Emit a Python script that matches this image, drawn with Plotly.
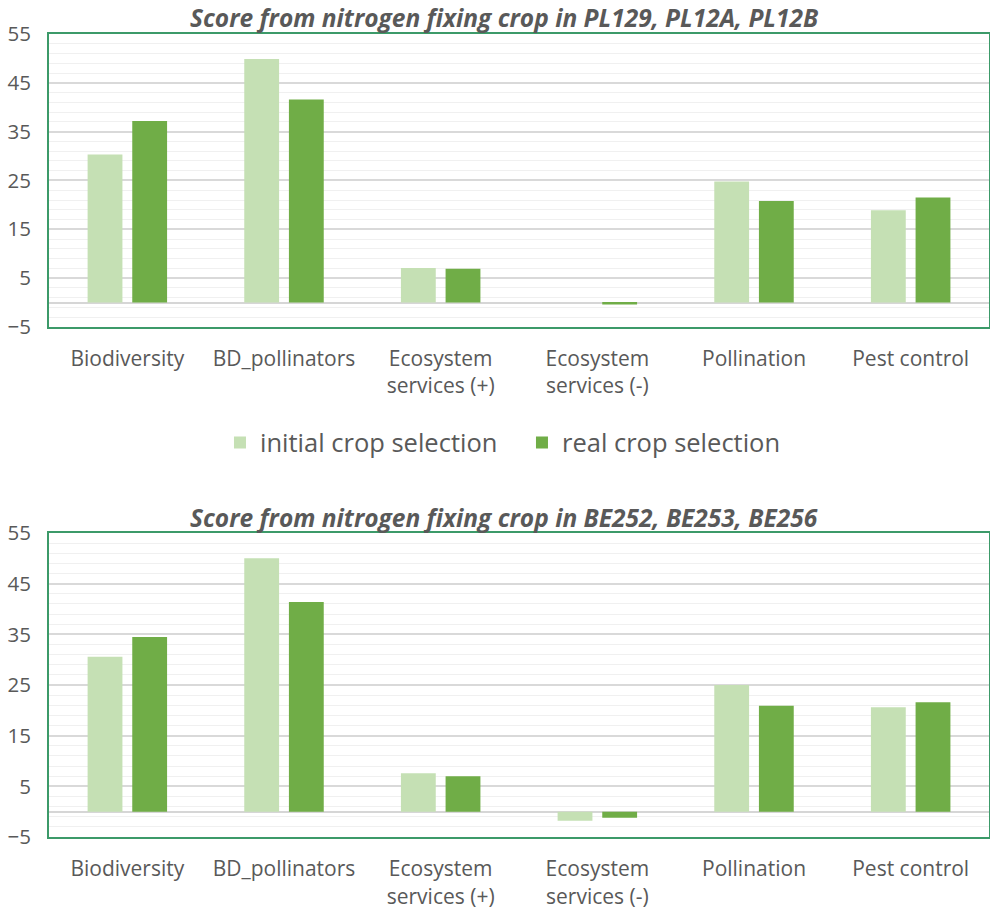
import plotly.graph_objects as go

# Categories and scores for both site groups
categories = ["Biodiversity", "BD_pollinators", "Ecosystem<br>services (+)",
              "Ecosystem<br>services (-)", "Pollination", "Pest control"]

pl_initial = [30.3, 49.9, 7.1, 0.0, 24.8, 18.9]
pl_real = [37.2, 41.6, 6.9, -0.4, 20.8, 21.5]

be_initial = [30.6, 50.0, 7.6, -1.8, 25.0, 20.6]
be_real = [34.5, 41.4, 7.0, -1.2, 20.9, 21.6]

titles = ["Score from nitrogen fixing crop in PL129, PL12A, PL12B",
          "Score from nitrogen fixing crop in BE252, BE253, BE256"]
series_names = ["initial crop selection", "real crop selection"]

LIGHT = "#C5E0B4"
DARK = "#70AD47"
BORDER = "#3C9A69"
TEXT = "#595959"
FONT = "Open Sans"

fig = go.Figure()

for row, (ini, real) in enumerate([(pl_initial, pl_real), (be_initial, be_real)]):
    xa = "x" if row == 0 else "x2"
    ya = "y" if row == 0 else "y2"
    fig.add_trace(go.Bar(x=categories, y=ini, name=series_names[0],
                         marker=dict(color=LIGHT, line=dict(width=0)),
                         xaxis=xa, yaxis=ya, showlegend=(row == 0),
                         legendgroup="ini"))
    fig.add_trace(go.Bar(x=categories, y=real, name=series_names[1],
                         marker=dict(color=DARK, line=dict(width=0)),
                         xaxis=xa, yaxis=ya, showlegend=(row == 0),
                         legendgroup="real"))

x_dom = [0.0495, 0.999]
y_doms = [[0.6403, 0.9626], [0.0792, 0.4136]]

common_x = dict(
    domain=x_dom, type="category", showline=True, mirror=True,
    linecolor=BORDER, linewidth=2, showgrid=False, ticks="",
    tickfont=dict(family=FONT, size=21, color=TEXT),
    ticklabelstandoff=12, automargin=False, fixedrange=True,
)
common_y = dict(
    range=[-5, 55], tickmode="linear", tick0=-5, dtick=10,
    showline=True, mirror=True, linecolor=BORDER, linewidth=2,
    showgrid=True, gridcolor="#D9D9D9", gridwidth=1.5,
    minor=dict(tick0=-5, dtick=2, showgrid=True, gridcolor="#F0F0F0", gridwidth=1),
    zeroline=True, zerolinecolor="#D6D6D6", zerolinewidth=1.5,
    tickfont=dict(family=FONT, size=20.5, color=TEXT),
    ticks="", ticklabelstandoff=12, automargin=False, fixedrange=True,
)

title_font = dict(family=FONT, size=24.5, color=TEXT)

fig.update_layout(
    width=990, height=909,
    margin=dict(l=0, r=0, t=0, b=0),
    paper_bgcolor="white", plot_bgcolor="white",
    barmode="group", bargap=0.43, bargroupgap=0.22,
    xaxis=dict(anchor="y", **common_x),
    yaxis=dict(anchor="x", domain=y_doms[0], **common_y),
    xaxis2=dict(anchor="y2", **common_x),
    yaxis2=dict(anchor="x2", domain=y_doms[1], **common_y),
    legend=dict(orientation="h", x=0.2222, y=0.5127, xanchor="left",
                yanchor="middle", font=dict(family=FONT, size=25.5, color=TEXT),
                itemwidth=30, entrywidth=257, entrywidthmode="pixels",
                bgcolor="rgba(0,0,0,0)"),
    annotations=[
        dict(text="<b><i>%s</i></b>" % titles[0], x=0.509, y=0.9802,
             xref="paper", yref="paper", showarrow=False,
             xanchor="center", yanchor="middle", font=title_font),
        dict(text="<b><i>%s</i></b>" % titles[1], x=0.509, y=0.4312,
             xref="paper", yref="paper", showarrow=False,
             xanchor="center", yanchor="middle", font=title_font),
    ],
)

fig.write_html("out.html")
